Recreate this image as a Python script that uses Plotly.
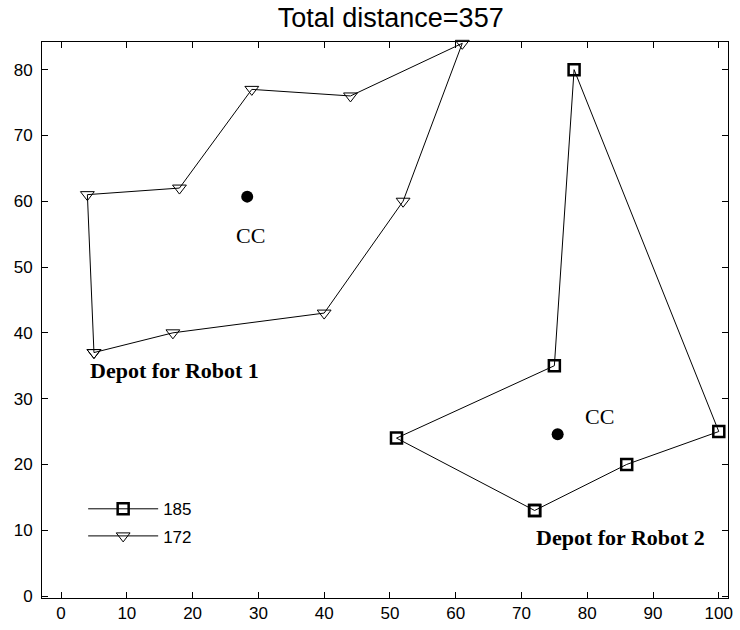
import plotly.graph_objects as go

# Robot 1 tour (starts and ends at its depot)
r1_x = [5, 17, 40, 52, 61, 44, 29, 18, 4, 5]
r1_y = [37, 40, 43, 60, 84, 76, 77, 62, 61, 37]

# Robot 2 tour
r2_x = [72, 86, 100, 78, 75, 51, 72]
r2_y = [13, 20, 25, 80, 35, 24, 13]

# Cluster centres
cc_x = [28.3, 75.5]
cc_y = [60.7, 24.6]

route_names = ["185", "172"]
title_text = "Total distance=357"
x_ticks = list(range(0, 101, 10))
y_ticks = list(range(0, 81, 10))

fig = go.Figure()

fig.add_trace(go.Scatter(
    x=r2_x, y=r2_y, mode="lines+markers", name=route_names[0], legendgroup="a",
    cliponaxis=False,
    line=dict(color="black", width=1),
    marker=dict(symbol="square-open", size=11, color="black", line=dict(width=2.5, color="black")),
))
fig.add_trace(go.Scatter(
    x=r1_x, y=r1_y, mode="lines+markers", name=route_names[1], legendgroup="b",
    cliponaxis=False,
    line=dict(color="black", width=1),
    marker=dict(symbol="triangle-down-open", size=12, color="black", line=dict(width=1, color="black")),
))
fig.add_trace(go.Scatter(
    x=cc_x, y=cc_y, mode="markers", showlegend=False,
    marker=dict(symbol="circle", size=12, color="black"),
))

serif_bold = dict(family="Liberation Serif", size=22, color="black")
cc_font = dict(family="Liberation Serif", size=22, color="black")
fig.add_annotation(x=28.8, y=54.8, text="CC", showarrow=False, font=cc_font)
fig.add_annotation(x=81.8, y=27.3, text="CC", showarrow=False, font=cc_font)
fig.add_annotation(x=17.3, y=34.2, text="<b>Depot for Robot 1</b>", showarrow=False, font=serif_bold)
fig.add_annotation(x=85.1, y=8.9, text="<b>Depot for Robot 2</b>", showarrow=False, font=serif_bold)

axis_common = dict(
    showline=True, linecolor="black", linewidth=1, mirror="ticks",
    ticks="inside", ticklen=6, tickcolor="black", showgrid=False, zeroline=False,
    tickfont=dict(family="Liberation Sans", size=17, color="black"),
)

fig.update_layout(
    width=740, height=630,
    margin=dict(l=42, r=7, t=42, b=30),
    paper_bgcolor="white", plot_bgcolor="white",
    title=dict(text=title_text, x=0.528, xanchor="center", xref="container",
               y=0.972, yanchor="middle", yref="container",
               font=dict(family="Liberation Sans", size=27, color="black")),
    xaxis=dict(range=[-2.9, 101.4], tickvals=x_ticks, **axis_common),
    yaxis=dict(range=[-0.3, 84.2], tickvals=y_ticks, ticklabelstandoff=5, **axis_common),
    legend=dict(x=0.06, y=0.192, xanchor="left", yanchor="top", bgcolor="rgba(0,0,0,0)",
                itemwidth=70, traceorder="grouped", tracegroupgap=2,
                font=dict(family="Liberation Sans", size=17, color="black")),
    showlegend=True,
)

fig.write_html("out.html")
